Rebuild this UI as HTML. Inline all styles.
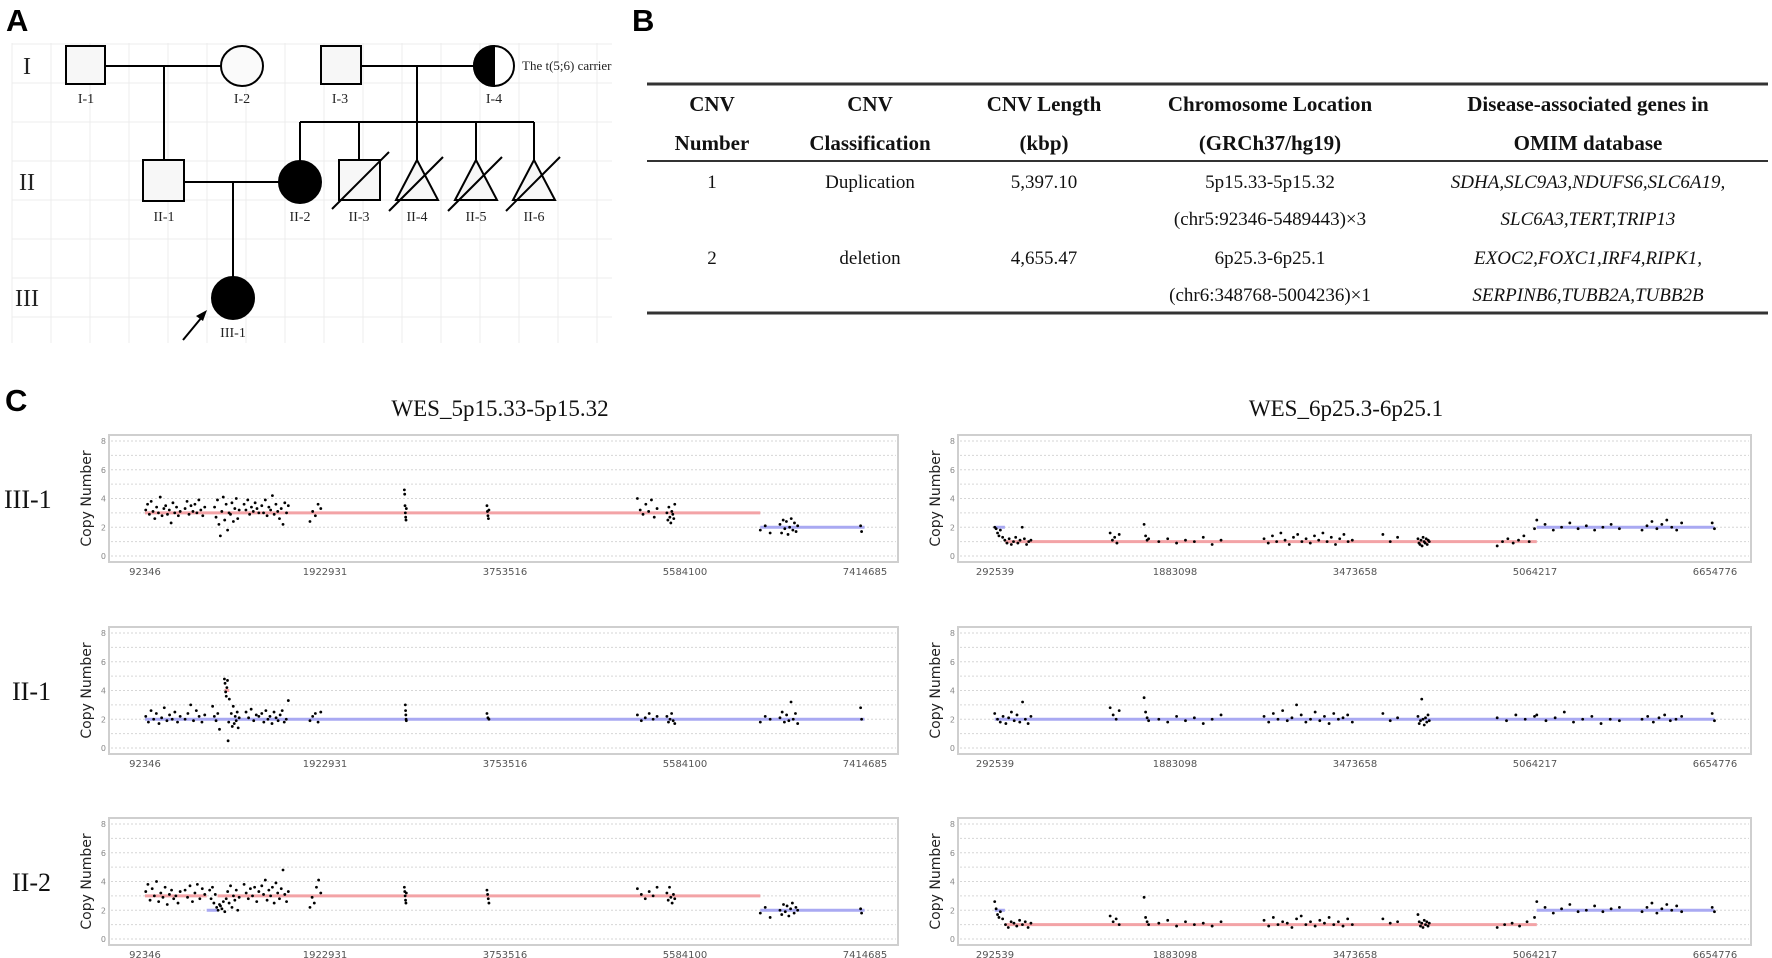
<!DOCTYPE html>
<html><head><meta charset="utf-8">
<style>
html,body{margin:0;padding:0;background:#fff;}
svg{display:block;}
.serif{font-family:"Liberation Serif",serif;}
.sans{font-family:"Liberation Sans",sans-serif;}
</style></head>
<body>
<svg id="fig" width="1772" height="958" viewBox="0 0 1772 958" xmlns="http://www.w3.org/2000/svg">
<!-- Panel labels -->
<text x="6" y="31" class="sans" font-size="31" font-weight="bold">A</text>
<text x="632" y="31" class="sans" font-size="31" font-weight="bold">B</text>
<text x="5" y="411" class="sans" font-size="31" font-weight="bold">C</text>

<g id="pedgrid"></g>
<g id="pedigree" stroke="#000" stroke-width="2" fill="none">
  <!-- marriage & descent lines -->
  <line x1="105" y1="66" x2="221" y2="66"/>
  <line x1="164" y1="66" x2="164" y2="160"/>
  <line x1="361" y1="66" x2="474" y2="66"/>
  <line x1="417" y1="66" x2="417" y2="122"/>
  <line x1="300" y1="122" x2="534" y2="122"/>
  <line x1="300" y1="122" x2="300" y2="161"/>
  <line x1="359" y1="122" x2="359" y2="160"/>
  <line x1="417" y1="122" x2="417" y2="160"/>
  <line x1="476" y1="122" x2="476" y2="160"/>
  <line x1="534" y1="122" x2="534" y2="160"/>
  <line x1="184" y1="182" x2="279" y2="182"/>
  <line x1="233" y1="182" x2="233" y2="277"/>
  <!-- symbols -->
  <rect x="66" y="46" width="39" height="38" fill="#f7f7f7"/>
  <ellipse cx="242" cy="66" rx="21" ry="20" fill="#fafafa"/>
  <rect x="321" y="46" width="40" height="38" fill="#f7f7f7"/>
  <g>
    <ellipse cx="494" cy="66" rx="20" ry="20" fill="#fff"/>
    <path d="M494,46 A20,20 0 0 0 494,86 Z" fill="#000"/>
  </g>
  <rect x="143" y="160" width="41" height="41" fill="#f7f7f7"/>
  <ellipse cx="300" cy="182" rx="21" ry="21" fill="#000"/>
  <g>
    <rect x="339" y="160" width="41" height="40" fill="#f7f7f7"/>
    <line x1="332" y1="209" x2="389" y2="152"/>
  </g>
  <g>
    <polygon points="417,160 396,200 438,200" fill="#f7f7f7"/>
    <line x1="389" y1="211" x2="443" y2="157"/>
  </g>
  <g>
    <polygon points="476,160 455,200 497,200" fill="#f7f7f7"/>
    <line x1="448" y1="211" x2="502" y2="157"/>
  </g>
  <g>
    <polygon points="534,160 513,200 555,200" fill="#f7f7f7"/>
    <line x1="506" y1="211" x2="560" y2="157"/>
  </g>
  <ellipse cx="233" cy="298" rx="21" ry="21" fill="#000"/>
  <g>
    <line x1="183" y1="340" x2="202" y2="317"/>
    <polygon points="207,310 196,316 203,321" fill="#000" stroke="none"/>
  </g>
</g>
<g class="serif" font-size="14" fill="#222" text-anchor="middle">
  <text x="86" y="103">I-1</text><text x="242" y="103">I-2</text><text x="340" y="103">I-3</text><text x="494" y="103">I-4</text>
  <text x="164" y="221">II-1</text><text x="300" y="221">II-2</text><text x="359" y="221">II-3</text><text x="417" y="221">II-4</text><text x="476" y="221">II-5</text><text x="534" y="221">II-6</text>
  <text x="233" y="337">III-1</text>
  <text x="522" y="70" text-anchor="start" font-size="13">The t(5;6) carrier</text>
</g>
<g class="serif" font-size="24" fill="#222" text-anchor="middle">
  <text x="27" y="74">I</text><text x="27" y="190">II</text><text x="27" y="306">III</text>
</g>

<!-- Table B -->
<g class="serif">
  <line x1="647" y1="84" x2="1768" y2="84" stroke="#333" stroke-width="3"/>
  <line x1="647" y1="161" x2="1768" y2="161" stroke="#333" stroke-width="2"/>
  <line x1="647" y1="313" x2="1768" y2="313" stroke="#333" stroke-width="3"/>
  <g font-weight="bold" font-size="21" text-anchor="middle" fill="#111">
    <text x="712" y="111">CNV</text><text x="712" y="150">Number</text>
    <text x="870" y="111">CNV</text><text x="870" y="150">Classification</text>
    <text x="1044" y="111">CNV Length</text><text x="1044" y="150">(kbp)</text>
    <text x="1270" y="111">Chromosome Location</text><text x="1270" y="150">(GRCh37/hg19)</text>
    <text x="1588" y="111">Disease-associated genes in</text><text x="1588" y="150">OMIM database</text>
  </g>
  <g font-size="19" text-anchor="middle" fill="#111">
    <text x="712" y="188">1</text><text x="870" y="188">Duplication</text><text x="1044" y="188">5,397.10</text>
    <text x="1270" y="188">5p15.33-5p15.32</text><text x="1270" y="225">(chr5:92346-5489443)×3</text>
    <text x="1588" y="188" font-style="italic">SDHA,SLC9A3,NDUFS6,SLC6A19,</text>
    <text x="1588" y="225" font-style="italic">SLC6A3,TERT,TRIP13</text>
    <text x="712" y="264">2</text><text x="870" y="264">deletion</text><text x="1044" y="264">4,655.47</text>
    <text x="1270" y="264">6p25.3-6p25.1</text><text x="1270" y="301">(chr6:348768-5004236)×1</text>
    <text x="1588" y="264" font-style="italic">EXOC2,FOXC1,IRF4,RIPK1,</text>
    <text x="1588" y="301" font-style="italic">SERPINB6,TUBB2A,TUBB2B</text>
  </g>
</g>

<!-- Panel C titles -->
<text x="500" y="416" class="serif" font-size="23" text-anchor="middle" fill="#111">WES_5p15.33-5p15.32</text>
<text x="1346" y="416" class="serif" font-size="23" text-anchor="middle" fill="#111">WES_6p25.3-6p25.1</text>
<g class="serif" font-size="26" fill="#111">
  <text x="4" y="508">III-1</text><text x="12" y="700">II-1</text><text x="12" y="891">II-2</text>
</g>
<g id="plots"></g>
</svg>
<script>
// ---------- data (genomic positions in Mb, copy numbers) ----------
const leftTicks = ["92346","1922931","3753516","5584100","7414685"];
const rightTicks = ["292539","1883098","3473658","5064217","6654776"];
const yTicks = [0,2,4,6,8];

const segL_III1 = [[0.092,6.35,3,"red"],[6.35,7.41,2,"blue"]];
const ptsL_III1 = [
 [0.10,0.45,[3.2,3.6,2.9,3.8,3.1,2.6,3.4,3.0,4.1,2.8,3.3,3.5,2.9,3.2,2.3,3.7,3.0,3.4,2.8,3.1]],
 [0.50,0.70,[3.3,3.8,2.9,3.5,3.1,3.6,3.0,3.9,3.2,2.8,3.4]],
 [0.80,1.05,[3.4,2.7,3.9,2.2,1.4,3.1,4.1,2.5,3.6,1.8,3.0,2.9,3.7,2.4,3.3,4.0,2.6,3.2]],
 [1.10,1.25,[3.6,3.2,3.9,2.9,3.4,3.1,3.7,3.3,3.0]],
 [1.28,1.55,[3.5,3.0,3.9,2.8,3.4,3.2,4.2,2.9,3.6,3.1,2.6,3.3,2.2,3.7,3.0,3.5]],
 [1.77,1.88,[2.4,3.1,2.8,3.6,3.3]],
 [2.73,2.75,[4.6,4.3,3.5,3.0,2.7,2.5,3.3]],
 [3.57,3.59,[3.5,3.1,2.8,2.6,3.2]],
 [5.10,5.30,[4.0,3.2,2.9,3.6,3.1,3.9,2.7,3.3]],
 [5.40,5.48,[3.0,2.5,3.4,2.7,2.3,3.1,2.9,2.6,3.6]],
 [6.35,6.45,[1.8,2.1,1.6]],
 [6.55,6.73,[2.2,1.6,2.5,1.9,2.4,1.5,2.0,2.6,1.8,2.3,1.7,2.1]],
 [7.37,7.38,[2.1,1.7]]
];
const segL_II1 = [[0.092,7.41,2,"blue"],[0.90,0.95,4,"red"]];
const ptsL_II1 = [
 [0.10,0.45,[2.2,1.8,2.6,2.0,2.4,1.7,2.1,2.8,1.9,2.3,2.0,2.5,1.8,2.2]],
 [0.50,0.70,[2.0,2.4,3.0,1.9,2.6,2.2,1.8,2.3]],
 [0.78,0.85,[2.9,2.2,1.9,2.4,1.3]],
 [0.90,0.95,[4.8,4.5,3.9,3.6,4.2,4.7,0.5,1.8,3.4]],
 [0.97,1.05,[2.4,1.5,2.9,1.7,2.2,1.9,2.5,1.4,2.1]],
 [1.12,1.25,[2.5,2.1,2.7,1.9,2.3,2.2]],
 [1.28,1.55,[2.4,1.8,2.6,2.0,2.2,1.7,2.5,2.1,1.9,2.3,2.6,1.8,2.0,3.3]],
 [1.77,1.88,[1.9,2.2,2.4,1.8,2.5]],
 [2.74,2.75,[3.0,2.6,2.3,2.0,1.9]],
 [3.57,3.59,[2.4,2.1,2.0]],
 [5.10,5.30,[2.3,1.9,2.1,2.4,2.0,2.2]],
 [5.40,5.48,[2.2,1.8,2.0,2.4,1.9,1.7]],
 [6.35,6.45,[1.8,2.2,2.0]],
 [6.55,6.73,[2.1,2.5,1.8,2.3,1.9,3.2,2.0,2.4,1.7]],
 [7.37,7.38,[2.8,2.0]]
];
const segL_II2 = [[0.092,0.72,3,"red"],[0.72,0.83,2,"blue"],[0.83,6.35,3,"red"],[6.35,7.41,2,"blue"]];
const ptsL_II2 = [
 [0.10,0.45,[3.3,3.8,2.7,3.5,3.0,4.0,2.6,3.2,2.9,3.6,2.4,3.1,3.4,2.8,3.0,2.5,3.3]],
 [0.50,0.70,[3.4,2.9,3.7,2.6,3.2,3.8,2.8,3.5,3.1]],
 [0.75,0.85,[3.4,2.8,3.6,2.5,3.1,2.2,2.0,2.4]],
 [0.86,1.05,[2.3,2.1,2.6,1.9,2.8,3.3,2.5,3.7,2.2,3.0,2.7,3.4,2.0,2.9]],
 [1.10,1.25,[3.8,3.2,2.8,3.5,3.0,3.6,2.6,3.3]],
 [1.28,1.55,[3.7,3.1,4.1,2.7,3.4,3.0,3.6,2.5,3.9,3.2,2.8,3.5,4.8,3.1,2.6,3.3]],
 [1.77,1.88,[2.2,2.9,2.5,3.6,4.1,3.2]],
 [2.73,2.75,[3.6,3.3,3.0,2.7,2.5,3.2]],
 [3.57,3.59,[3.4,3.1,2.8,2.5]],
 [5.10,5.30,[3.5,3.1,2.8,3.3,3.0,3.6]],
 [5.40,5.48,[3.2,2.7,3.6,2.9,2.5,3.1,2.8]],
 [6.35,6.45,[1.8,2.2,1.5]],
 [6.55,6.73,[2.0,1.7,2.4,1.9,2.3,1.6,2.1,2.5,1.8,2.2,2.0]],
 [7.37,7.38,[2.1,1.8]]
];
const segR_III1 = [[0.29,0.38,2,"blue"],[0.38,5.08,1,"red"],[5.08,6.65,2,"blue"]];
const ptsR_III1 = [
 [0.29,0.34,[2.0,1.9,1.6,1.4,1.8]],
 [0.36,0.61,[1.3,1.1,0.9,1.2,0.8,1.0,1.3,0.9,1.1,2.0,1.2,0.8,1.0,1.1]],
 [1.31,1.39,[1.6,1.1,1.3,0.9,1.5]],
 [1.61,1.65,[2.2,1.4,1.1,1.2]],
 [1.74,2.29,[1.0,1.2,0.9,1.1,1.0,1.3,0.8,1.1]],
 [2.67,3.45,[1.2,0.9,1.4,1.0,1.6,1.1,0.8,1.3,1.5,1.0,1.2,0.9,1.4,1.1,1.6,1.0,1.3,0.8,1.2,1.5,1.0,1.1]],
 [3.72,3.85,[1.5,1.0,1.3]],
 [4.03,4.13,[1.2,0.9,0.8,1.1,0.7,1.3,1.0,0.9,1.2,0.8,1.1,1.0]],
 [4.73,5.06,[0.7,1.0,1.2,0.9,1.1,1.4,1.0,1.9]],
 [5.08,5.81,[2.5,2.2,1.8,2.0,2.3,1.9,2.1,1.8,2.0,2.2,1.9]],
 [6.01,6.36,[1.8,2.1,2.4,1.9,2.2,2.5,2.0,1.8,2.3]],
 [6.63,6.65,[2.3,1.9]]
];
const segR_II1 = [[0.29,6.65,2,"blue"]];
const ptsR_II1 = [
 [0.29,0.61,[2.4,2.0,1.8,2.2,1.7,2.1,2.5,1.9,2.3,1.8,3.2,2.0,1.7,2.2]],
 [1.31,1.39,[2.8,2.3,2.0,2.6]],
 [1.61,1.65,[3.5,2.5,2.1,1.9]],
 [1.74,2.29,[2.0,1.8,2.2,1.9,2.1,1.7,2.0,2.3]],
 [2.67,3.45,[2.2,1.8,2.4,2.0,2.6,1.9,2.1,3.0,2.3,1.8,2.0,2.5,1.9,2.2,1.7,2.4,2.0,2.1,2.3,1.8]],
 [3.72,3.85,[2.4,1.9,2.1]],
 [4.03,4.13,[2.2,1.7,1.9,3.4,2.0,1.6,2.1,1.8,2.3,1.9]],
 [4.73,5.06,[2.1,1.9,2.3,2.0,2.2]],
 [5.08,5.81,[2.3,1.9,2.1,2.5,1.8,2.0,2.2,1.7,2.0,1.9]],
 [6.01,6.36,[2.0,2.2,1.8,2.1,2.3,1.9,2.0,2.2]],
 [6.63,6.65,[2.4,1.9]]
];
const segR_II2 = [[0.29,0.38,2,"blue"],[0.38,5.08,1,"red"],[5.08,6.65,2,"blue"]];
const ptsR_II2 = [
 [0.29,0.34,[2.6,2.1,1.7,1.5,1.9]],
 [0.36,0.61,[1.4,1.0,0.8,1.2,1.1,0.9,1.3,1.0,1.2,0.8,1.1]],
 [1.31,1.39,[1.6,1.2,1.4,1.0]],
 [1.61,1.65,[2.9,1.5,1.2,1.0]],
 [1.74,2.29,[1.1,1.3,0.9,1.2,1.0,1.1,0.9,1.2]],
 [2.67,3.45,[1.3,0.9,1.5,1.0,1.2,1.1,0.8,1.4,1.6,1.0,1.2,0.9,1.3,1.1,1.5,1.0,1.2,0.9,1.4,1.0]],
 [3.72,3.85,[1.4,1.1,1.2]],
 [4.03,4.13,[1.7,1.2,0.9,1.1,0.8,1.3,1.0,1.2,0.9,1.1]],
 [4.73,5.06,[0.8,1.0,1.1,0.9,1.2,1.5]],
 [5.08,5.81,[2.6,2.2,1.8,2.1,2.4,1.9,2.0,2.3,1.9,2.1,2.2]],
 [6.01,6.36,[1.9,2.2,2.5,1.8,2.1,2.4,2.0,2.3,1.9]],
 [6.63,6.65,[2.2,1.9]]
];

// ---------- layout ----------
const NS = "http://www.w3.org/2000/svg";
const plotsG = document.getElementById("plots");
function mk(tag, attrs, parent){
  const e = document.createElementNS(NS, tag);
  for (const k in attrs) e.setAttribute(k, attrs[k]);
  (parent||plotsG).appendChild(e); return e;
}
// pedigree grid
const pg = document.getElementById("pedgrid");
for (let x = 12; x <= 612; x += 39) { const l = mk("line",{x1:x,y1:43,x2:x,y2:343,stroke:"#ececec","stroke-width":1},pg);   }
for (let y = 44; y <= 343; y += 39) { const l = mk("line",{x1:12,y1:y,x2:612,y2:y,stroke:"#ececec","stroke-width":1},pg);   }

const rowTops = [435, 627, 818];
const boxH = 127;
const cols = [
  {box:[109,898], px0:145, g0:0.092346, step:1.830585, ticks:leftTicks, ylab:91},
  {box:[958,1751], px0:995, g0:0.292539, step:1.590559, ticks:rightTicks, ylab:940}
];
const panels = [
  {col:0,row:0,seg:segL_III1,pts:ptsL_III1,name:"left-iii-1"},
  {col:0,row:1,seg:segL_II1,pts:ptsL_II1,name:"left-ii-1"},
  {col:0,row:2,seg:segL_II2,pts:ptsL_II2,name:"left-ii-2"},
  {col:1,row:0,seg:segR_III1,pts:ptsR_III1,name:"right-iii-1"},
  {col:1,row:1,seg:segR_II1,pts:ptsR_II1,name:"right-ii-1"},
  {col:1,row:2,seg:segR_II2,pts:ptsR_II2,name:"right-ii-2"}
];
const segColor = {red:"#f3a3a6", blue:"#a9a9f2"};

panels.forEach(p => {
  const c = cols[p.col], top = rowTops[p.row], bot = top + boxH;
  const xs = g => c.px0 + (g - c.g0) / c.step * 180;
  const ys = v => top + 6 + (8 - v) * (boxH - 12) / 8;
  const g = mk("g", {});
  
  
  const box = mk("rect", {x:c.box[0], y:top, width:c.box[1]-c.box[0], height:boxH, fill:"#fff", stroke:"#cfcfcf", "stroke-width":2}, g);
  
  
  for (let v = 0; v <= 8; v++) {
    const gl = mk("line", {x1:c.box[0]+2, x2:c.box[1]-2, y1:ys(v), y2:ys(v), stroke:"#d6d6d6", "stroke-width":1, "stroke-dasharray":"2,2"}, g);
    
    
  }
  yTicks.forEach(v => {
    const t = mk("text", {x:c.box[0]-3, y:ys(v)+3, "font-size":8, fill:"#888", "text-anchor":"end", "font-family":"DejaVu Sans, sans-serif"}, g);
    t.textContent = v;
    
    
  });
  c.ticks.forEach((lab, i) => {
    const t = mk("text", {x:c.px0 + i*180, y:bot+13, "font-size":10, fill:"#555", "text-anchor":"middle", "font-family":"DejaVu Sans, sans-serif"}, g);
    t.textContent = lab;
    
    
  });
  const yl = mk("text", {x:c.ylab, y:(top+bot)/2, "font-size":14, fill:"#222", "text-anchor":"middle", "font-family":"DejaVu Sans, sans-serif", transform:`rotate(-90 ${c.ylab} ${(top+bot)/2})`}, g);
  yl.textContent = "Copy Number";
  
  
  p.seg.forEach(s => {
    const l = mk("line", {x1:xs(s[0]), x2:xs(s[1]), y1:ys(s[2]), y2:ys(s[2]), stroke:segColor[s[3]], "stroke-width":3}, g);
    
    
  });
  p.pts.forEach(cl => {
    const n = cl[2].length;
    cl[2].forEach((v, i) => {
      const gx = n > 1 ? cl[0] + (cl[1]-cl[0]) * i/(n-1) : cl[0];
      const d = mk("circle", {cx:xs(gx), cy:ys(v), r:1.4, fill:"#000"}, g);
      
      
    });
  });
});
</script>
</body></html>
